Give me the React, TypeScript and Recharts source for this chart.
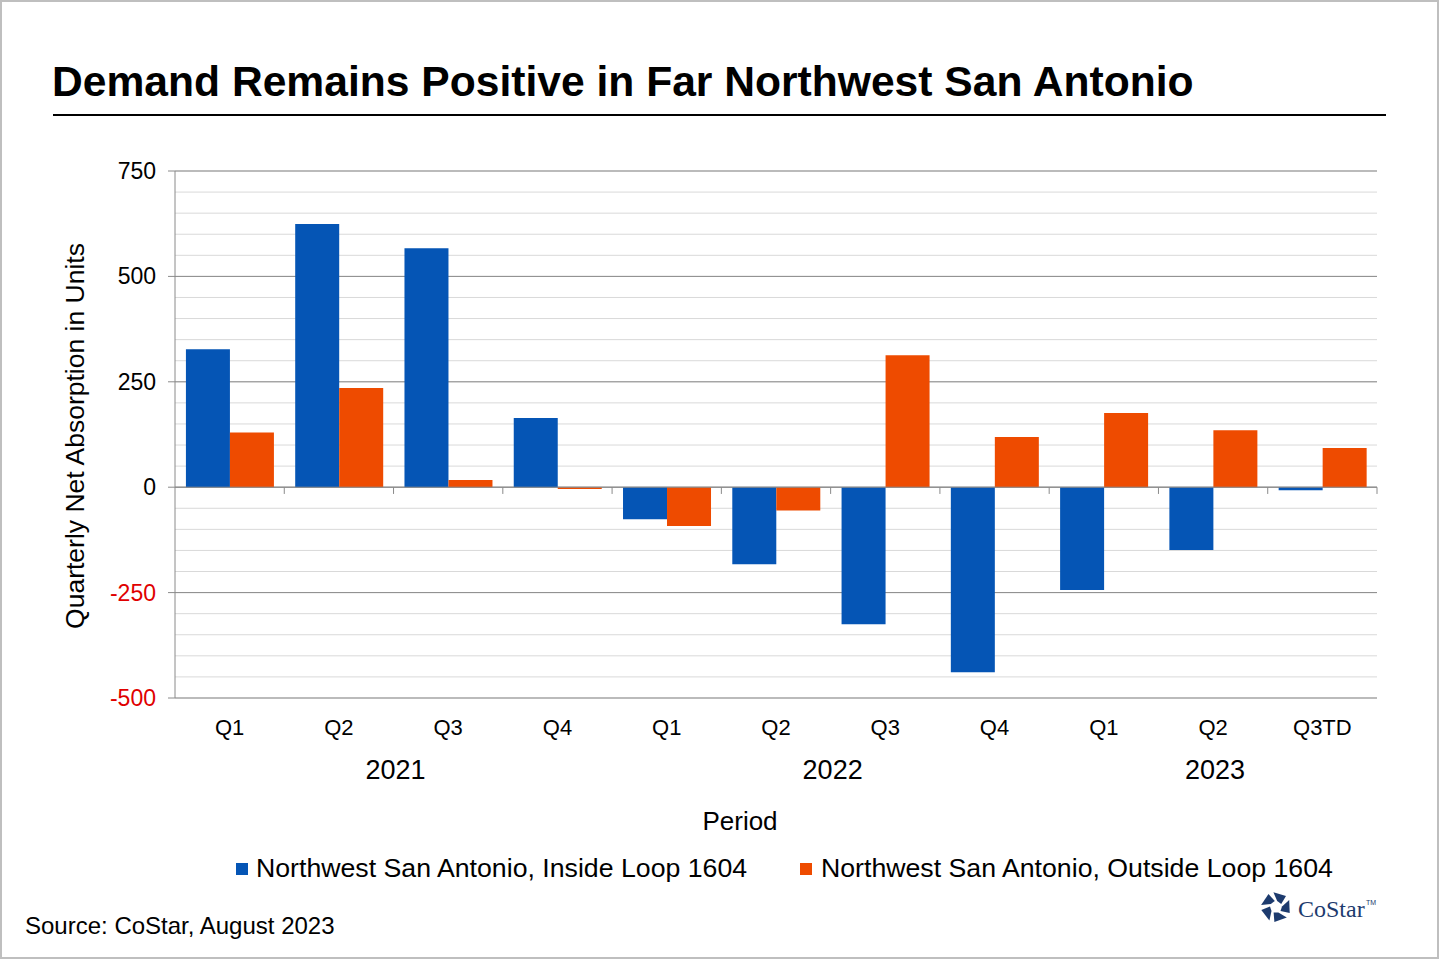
import React from 'react';
import {
  BarChart,
  Bar,
  XAxis,
  YAxis,
  CartesianGrid,
  ReferenceLine,
} from 'recharts';

// values (units)
const quarters = ['Q1', 'Q2', 'Q3', 'Q4', 'Q1', 'Q2', 'Q3', 'Q4', 'Q1', 'Q2', 'Q3TD'];
const years = ['2021', '2022', '2023'];
const quartersPerYear = [4, 4, 3];
const insideLoop = [327, 624, 567, 164, -76, -183, -325, -439, -244, -149, -7];
const outsideLoop = [130, 235, 17, -4, -92, -55, 313, 119, 176, 135, 93];
const seriesNames = [
  'Northwest San Antonio, Inside Loop 1604',
  'Northwest San Antonio, Outside Loop 1604',
];
const majorTicks = [-500, -250, 0, 250, 500, 750];
const minorTicks = [
  -500, -450, -400, -350, -300, -250, -200, -150, -100, -50, 0, 50, 100, 150,
  200, 250, 300, 350, 400, 450, 500, 550, 600, 650, 700, 750,
];

const BLUE = '#0555B5';
const ORANGE = '#EE4B00';
const GRID_MAJOR = '#8a8a8a';
const GRID_MINOR = '#d9d9d9';
const FONT = '"Liberation Sans", Arial, sans-serif';

// year of each quarter, from the group sizes
const yearOf: string[] = [];
years.forEach((y, i) => {
  for (let k = 0; k < quartersPerYear[i]; k++) yearOf.push(y);
});

const data = quarters.map((q, i) => ({
  id: `${yearOf[i]} ${q}`,
  quarter: q,
  inside: insideLoop[i],
  outside: outsideLoop[i],
}));

// where each year label sits: the middle quarter of its group
const yearLabelAt: Record<number, { label: string; even: boolean }> = {};
quartersPerYear.reduce((start, n, i) => {
  yearLabelAt[start + Math.floor((n - 1) / 2)] = { label: years[i], even: n % 2 === 0 };
  return start + n;
}, 0);

const YTick = (props: any) => {
  const { x, y, payload } = props;
  return (
    <text
      x={x}
      y={y}
      dy={8}
      textAnchor="end"
      fontSize={23}
      fontFamily={FONT}
      fill={payload.value < 0 ? '#E00000' : '#000'}
    >
      {payload.value}
    </text>
  );
};

const YearTick = (props: any) => {
  const { x, y, payload, index } = props;
  const i = payload.index ?? index;
  const info = yearLabelAt[i];
  if (!info) return null;
  const shift = info.even ? payload.offset ?? 0 : 0;
  return (
    <text x={x + shift + 2} y={y} dy={41} textAnchor="middle" fontSize={27} fontFamily={FONT} fill="#000">
      {info.label}
    </text>
  );
};

const Logo = () => {
  const cx = 1276;
  const cy = 907;
  const pieces = [0, 1, 2, 3, 4].map((k) => {
    const a0 = ((-100 + 72 * k) * Math.PI) / 180;
    const a1 = a0 + (52 * Math.PI) / 180;
    const a2 = a0 + (70 * Math.PI) / 180;
    const a3 = a0 + (22 * Math.PI) / 180;
    const pt = (a: number, r: number) =>
      `${(cx + r * Math.cos(a)).toFixed(1)},${(cy + r * Math.sin(a)).toFixed(1)}`;
    return [pt(a0, 15), pt(a1, 15), pt(a2, 6), pt(a3, 6)].join(' ');
  });
  return (
    <g>
      {pieces.map((p, i) => (
        <polygon key={i} points={p} fill="#1d3b6e" />
      ))}
      <text x={1298} y={917} fontSize={24} fontFamily='"Liberation Serif", serif' fill="#1d3b6e">
        CoStar
      </text>
      <text x={1366} y={905} fontSize={7} fontFamily={FONT} fill="#1d3b6e">
        TM
      </text>
    </g>
  );
};

const App: React.FC = () => {
  return (
    <div
      style={{
        position: 'absolute',
        left: 0,
        top: 0,
        width: 1440,
        height: 960,
        background: '#fff',
        fontFamily: FONT,
      }}
    >
      <BarChart
        width={1440}
        height={960}
        data={data}
        margin={{ top: 171, right: 63, bottom: 172, left: 100 }}
        barCategoryGap="10%"
        barGap={0}
      >
        <CartesianGrid vertical={false} stroke={GRID_MINOR} horizontalValues={minorTicks} />
        <CartesianGrid vertical={false} stroke={GRID_MAJOR} />
        <XAxis
          dataKey="id"
          height={40}
          axisLine={false}
          tickLine={false}
          tickSize={0}
          tickMargin={21}
          interval={0}
          tickFormatter={(v: string) => v.split(' ')[1]}
          tick={{ fill: '#000', fontSize: 22 }}
        />
        <XAxis
          xAxisId="year"
          dataKey="id"
          height={50}
          axisLine={false}
          tickLine={false}
          tickSize={0}
          tickMargin={0}
          interval={0}
          tick={<YearTick />}
        />
        <YAxis
          domain={[-500, 750]}
          ticks={majorTicks}
          width={75}
          interval={0}
          axisLine={{ stroke: GRID_MAJOR }}
          tickLine={{ stroke: GRID_MAJOR }}
          tickSize={7}
          tickMargin={12}
          tick={<YTick />}
        />
        <Bar dataKey="inside" name={seriesNames[0]} fill={BLUE} isAnimationActive={false} />
        <Bar dataKey="outside" name={seriesNames[1]} fill={ORANGE} isAnimationActive={false} />
        <ReferenceLine y={0} stroke={GRID_MAJOR} />
        {data.map((d) => (
          <ReferenceLine
            key={d.id}
            position="end"
            segment={[
              { x: d.id, y: 0 },
              { x: d.id, y: -16 },
            ]}
            stroke={GRID_MAJOR}
          />
        ))}
      </BarChart>

      <svg
        width={1440}
        height={960}
        style={{ position: 'absolute', left: 0, top: 0, pointerEvents: 'none' }}
      >
        <rect x={1} y={1} width={1437} height={957} fill="none" stroke="#bfbfbf" strokeWidth={2} />
        <text x={52} y={96} fontSize={42.6} fontWeight="bold" fontFamily={FONT} fill="#000">
          Demand Remains Positive in Far Northwest San Antonio
        </text>
        <line x1={53} y1={115} x2={1386} y2={115} stroke="#000" strokeWidth={2} />
        <text
          transform="translate(84,436) rotate(-90)"
          textAnchor="middle"
          fontSize={26.5}
          fontFamily={FONT}
          fill="#000"
        >
          Quarterly Net Absorption in Units
        </text>
        <text x={740} y={830} textAnchor="middle" fontSize={26} fontFamily={FONT} fill="#000">
          Period
        </text>
        <rect x={236} y={863} width={12} height={12} fill={BLUE} />
        <text x={256} y={877} fontSize={26.7} fontFamily={FONT} fill="#000">
          {seriesNames[0]}
        </text>
        <rect x={800} y={863} width={12} height={12} fill={ORANGE} />
        <text x={821} y={877} fontSize={26.7} fontFamily={FONT} fill="#000">
          {seriesNames[1]}
        </text>
        <text x={25} y={934} fontSize={24} fontFamily={FONT} fill="#000">
          Source: CoStar, August 2023
        </text>
        <Logo />
      </svg>
    </div>
  );
};

export default App;
